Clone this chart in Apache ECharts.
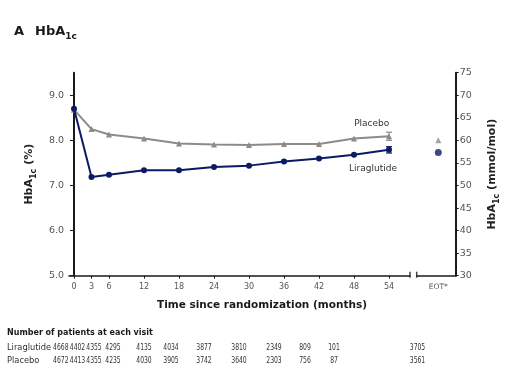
<!DOCTYPE html>
<html><head><meta charset="utf-8">
<script src="https://cdn.jsdelivr.net/npm/echarts@6/dist/echarts.min.js"></script>
<style>html,body{margin:0;padding:0;background:#fff}#c{width:512px;height:384px}</style>
</head><body><div id="c"></div>
<script>
// ---- data ----
const months = [0, 3, 6, 12, 18, 24, 30, 36, 42, 48, 54];
const liraglutide = [8.70, 7.19, 7.24, 7.34, 7.34, 7.41, 7.44, 7.53, 7.60, 7.68, 7.79];
const placebo = [8.68, 8.25, 8.13, 8.04, 7.93, 7.91, 7.90, 7.92, 7.92, 8.04, 8.09];
const liraglutideEOT = 7.73;
const placeboEOT = 8.00;
const liraglutideErr54 = 0.07;
const placeboErr54 = 0.09;
const leftTicks = [5, 6, 7, 8, 9];
const xTickLabels = ['0', '3', '6', '12', '18', '24', '30', '36', '42', '48', '54'];
const eotLabel = 'EOT*';
const nLiraglutide = [4668, 4402, 4355, 4295, 4135, 4034, 3877, 3810, 2349, 809, 101, 3705];
const nPlacebo = [4672, 4413, 4355, 4235, 4030, 3905, 3742, 3640, 2303, 756, 87, 3561];

// ---- layout (not data) ----
const colX = [60.8, 77.5, 94, 113, 144, 171, 204, 239, 274, 305, 334, 417.5];
const NAVY = '#0c1a66', GREY = '#8f8a86', AX = '#1a1a1a', LBL = '#555';
const gridTop = 72.7, gridH = 203;
const xA_min = -0.857, xA_max = 57.6, eotX = 0.554;
const NUMFONT = '8px "DejaVu Sans"';

const chart = echarts.init(document.getElementById('c'), null, {renderer: 'canvas'});

const richName = {
  m: {fontFamily: 'DejaVu Sans', fontWeight: 'bold', fontSize: 11, color: '#222', padding: [0, 0, 3, 0], verticalAlign: 'bottom'},
  s: {fontFamily: 'DejaVu Sans', fontWeight: 'bold', fontSize: 8, color: '#222', verticalAlign: 'bottom'}
};

const numTexts = [];
const pushNum = (v, i, y) => numTexts.push({type: 'text', x: colX[i], y: y, scaleX: 0.76,
  style: {text: String(v), x: 0, y: 0, align: 'center', verticalAlign: 'middle', font: NUMFONT, fill: '#333'}});
nLiraglutide.forEach((v, i) => pushNum(v, i, 347.7));
nPlacebo.forEach((v, i) => pushNum(v, i, 361));

chart.setOption({
  animation: false,
  grid: [
    {left: 69, top: gridTop, width: 341, height: gridH},
    {left: 416.7, top: gridTop, width: 39, height: gridH}
  ],
  xAxis: [
    {gridIndex: 0, type: 'value', min: xA_min, max: xA_max,
     axisLine: {show: true, lineStyle: {color: AX, width: 1.5}},
     axisTick: {show: true, customValues: months, length: 3, lineStyle: {color: AX}},
     axisLabel: {customValues: months, formatter: v => xTickLabels[months.indexOf(v)], fontFamily: 'DejaVu Sans', fontSize: 8, color: LBL, margin: 7},
     splitLine: {show: false}},
    {gridIndex: 1, type: 'value', min: 0, max: 1,
     axisLine: {show: true, lineStyle: {color: AX, width: 1.5}},
     axisTick: {show: false},
     axisLabel: {customValues: [eotX], formatter: () => eotLabel, fontFamily: 'DejaVu Sans', fontSize: 7.5, color: LBL, margin: 7},
     splitLine: {show: false}}
  ],
  yAxis: [
    {gridIndex: 0, type: 'value', min: 5, max: 9.5, position: 'left',
     axisLine: {show: true, lineStyle: {color: AX, width: 2}},
     axisTick: {show: true, customValues: leftTicks, length: 4, lineStyle: {color: AX}},
     axisLabel: {customValues: leftTicks, formatter: v => v.toFixed(1), fontFamily: 'DejaVu Sans', fontSize: 9.5, color: LBL, margin: 5},
     splitLine: {show: false},
     name: '{m|HbA}{s|1c}{m| (%)}', nameLocation: 'middle', nameRotate: 90, nameGap: 26,
     nameTextStyle: {rich: richName}},
    {gridIndex: 1, type: 'value', min: 30, max: 75, interval: 5, position: 'right',
     axisLine: {show: true, onZero: false, lineStyle: {color: AX, width: 2}},
     axisTick: {show: true, length: 3, lineStyle: {color: AX}},
     axisLabel: {fontFamily: 'DejaVu Sans', fontSize: 9.5, color: LBL, margin: 4},
     splitLine: {show: false},
     name: '{m|HbA}{s|1c}{m| (mmol/mol)}', nameLocation: 'middle', nameRotate: 90, nameGap: 31,
     nameTextStyle: {rich: richName}},
    {gridIndex: 1, type: 'value', min: 5, max: 9.5, show: false}
  ],
  series: [
    {type: 'line', name: 'Placebo', xAxisIndex: 0, yAxisIndex: 0, data: months.map((m, i) => [m, placebo[i]]),
     symbol: 'triangle', symbolSize: 6, itemStyle: {color: GREY}, lineStyle: {color: GREY, width: 2}, z: 2},
    {type: 'line', name: 'Liraglutide', xAxisIndex: 0, yAxisIndex: 0, data: months.map((m, i) => [m, liraglutide[i]]),
     symbol: 'circle', symbolSize: 6, itemStyle: {color: NAVY}, lineStyle: {color: NAVY, width: 2}, z: 3},
    {type: 'custom', xAxisIndex: 0, yAxisIndex: 0, z: 4,
     data: [[54, placebo[10] - placeboErr54, placebo[10] + placeboErr54, 0], [54, liraglutide[10] - liraglutideErr54, liraglutide[10] + liraglutideErr54, 1]],
     renderItem: (params, api) => {
       const lo = api.coord([api.value(0), api.value(1)]);
       const hi = api.coord([api.value(0), api.value(2)]);
       const c = api.value(3) === 0 ? GREY : NAVY;
       const w = 3;
       return {type: 'group', children: [
         {type: 'line', shape: {x1: lo[0], y1: lo[1], x2: hi[0], y2: hi[1]}, style: {stroke: c, lineWidth: 1.2}},
         {type: 'line', shape: {x1: lo[0] - w, y1: lo[1], x2: lo[0] + w, y2: lo[1]}, style: {stroke: c, lineWidth: 1.2}},
         {type: 'line', shape: {x1: hi[0] - w, y1: hi[1], x2: hi[0] + w, y2: hi[1]}, style: {stroke: c, lineWidth: 1.2}}
       ]};
     }},
    {type: 'scatter', xAxisIndex: 1, yAxisIndex: 2, data: [[eotX, placeboEOT]], symbol: 'triangle', symbolSize: 6, itemStyle: {color: GREY}},
    {type: 'scatter', xAxisIndex: 1, yAxisIndex: 2, data: [[eotX, liraglutideEOT]], symbol: 'circle', symbolSize: 7, itemStyle: {color: NAVY}},
    {type: 'scatter', xAxisIndex: 0, yAxisIndex: 0, data: [[xA_max, 5]], symbol: 'rect', symbolSize: [1.5, 6], symbolOffset: [0, -1], itemStyle: {color: AX}, silent: true},
    {type: 'scatter', xAxisIndex: 1, yAxisIndex: 2, data: [[0, 5]], symbol: 'rect', symbolSize: [1.5, 6], symbolOffset: [0, -1], itemStyle: {color: AX}, silent: true}
  ],
  graphic: [
    {type: 'text', x: 14, y: 33, style: {text: '{a|A}{b|HbA}{c|1c}', x: 0, y: 0, verticalAlign: 'middle',
      rich: {a: {fontFamily: 'DejaVu Sans', fontWeight: 'bold', fontSize: 13, fill: '#1a1a1a', padding: [0, 11, 3, 0], verticalAlign: 'bottom'},
             b: {fontFamily: 'DejaVu Sans', fontWeight: 'bold', fontSize: 13, fill: '#1a1a1a', padding: [0, 0, 3, 0], verticalAlign: 'bottom'},
             c: {fontFamily: 'DejaVu Sans', fontWeight: 'bold', fontSize: 9, fill: '#1a1a1a', verticalAlign: 'bottom'}}}},
    {type: 'text', x: 262, y: 305.7, style: {text: 'Time since randomization (months)', x: 0, y: 0, align: 'center', verticalAlign: 'middle', font: 'bold 10.5px "DejaVu Sans"', fill: '#1a1a1a'}},
    {type: 'text', x: 371.7, y: 123.3, style: {text: 'Placebo', x: 0, y: 0, align: 'center', verticalAlign: 'middle', font: '9px "DejaVu Sans"', fill: '#333'}},
    {type: 'text', x: 373, y: 169, style: {text: 'Liraglutide', x: 0, y: 0, align: 'center', verticalAlign: 'middle', font: '9px "DejaVu Sans"', fill: '#333'}},
    {type: 'text', x: 7, y: 333, style: {text: 'Number of patients at each visit', x: 0, y: 0, verticalAlign: 'middle', font: 'bold 8px "DejaVu Sans"', fill: '#1a1a1a'}},
    {type: 'text', x: 7, y: 347.7, style: {text: 'Liraglutide', x: 0, y: 0, verticalAlign: 'middle', font: '8.3px "DejaVu Sans"', fill: '#333'}},
    {type: 'text', x: 7, y: 361, style: {text: 'Placebo', x: 0, y: 0, verticalAlign: 'middle', font: '8.3px "DejaVu Sans"', fill: '#333'}}
  ].concat(numTexts)
});
</script></body></html>
